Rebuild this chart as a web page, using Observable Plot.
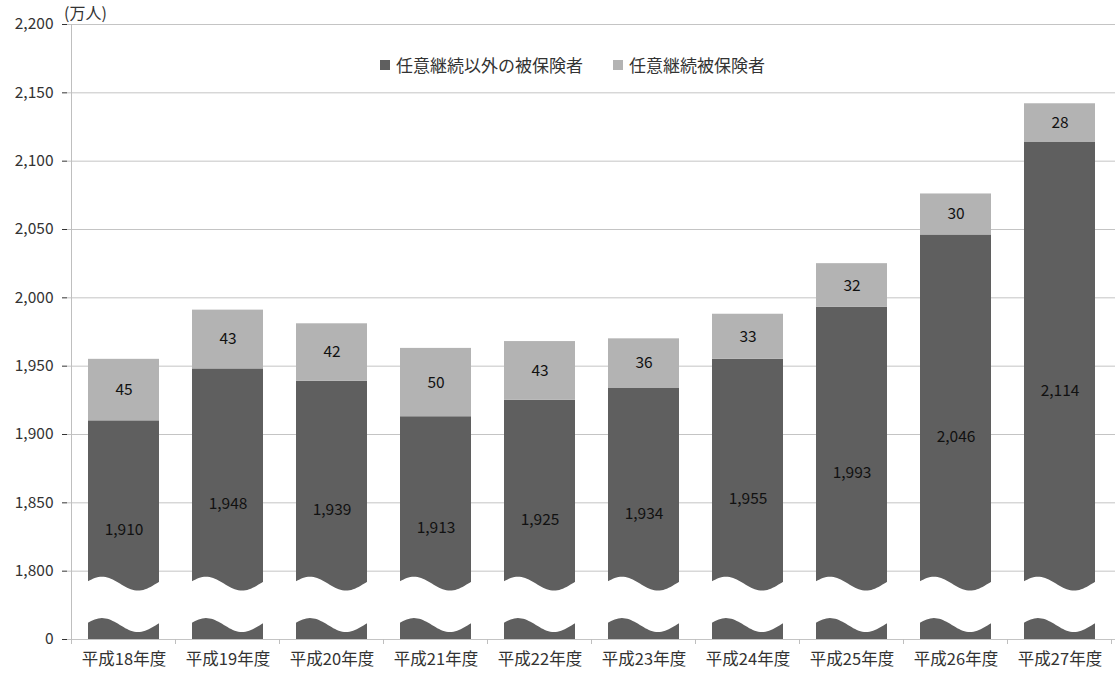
<!DOCTYPE html>
<html>
<head>
<meta charset="utf-8">
<script src="https://cdn.jsdelivr.net/npm/d3@7"></script>
<script src="https://cdn.jsdelivr.net/npm/@observablehq/plot@0.6"></script>
<style>
  body { margin: 0; background: #fff; font-family: "Noto Sans CJK JP", "Noto Sans", sans-serif; }
  #wrap { position: relative; width: 1115px; height: 676px; }
  #unit { position: absolute; left: 64px; top: 0px; font-size: 16px; color: #333; }
  #legend { position: absolute; left: 380px; top: 52px; font-size: 17px; color: #333; display: flex; align-items: center; white-space: nowrap; }
  #legend .sw { display: inline-block; width: 10px; height: 10px; margin-right: 6px; }
  #legend .item { display: flex; align-items: center; margin-right: 30px; }
  #wrap svg g[aria-label^="x-axis"] text { font-size: 16.5px; fill: #333; }
  #wrap svg g[aria-label^="y-axis"] text { font-size: 15.5px; fill: #333; }
</style>
</head>
<body>
<div id="wrap">
  <div id="unit">(万人)</div>
  <div id="legend"></div>
</div>
<script>
const years = ["平成18年度","平成19年度","平成20年度","平成21年度","平成22年度","平成23年度","平成24年度","平成25年度","平成26年度","平成27年度"];
const others = [1910, 1948, 1939, 1913, 1925, 1934, 1955, 1993, 2046, 2114];
const voluntary = [45, 43, 42, 50, 43, 36, 33, 32, 30, 28];
const seriesNames = ["任意継続以外の被保険者", "任意継続被保険者"];
const seriesColors = ["#5f5f5f", "#b3b3b3"];
const yTicks = [0, 1800, 1850, 1900, 1950, 2000, 2050, 2100, 2150, 2200];

// broken axis: 0 sits one step below 1,800
const BREAK = 1750;
const u = v => v === 0 ? 0 : v - BREAK;

const rows = [];
years.forEach((yr, i) => {
  rows.push({year: yr, s: 0, y1: 0, y2: u(others[i]), label: d3.format(",")(others[i])});
  rows.push({year: yr, s: 1, y1: u(others[i]), y2: u(others[i] + voluntary[i]), label: String(voluntary[i])});
});

function decor(index, scales, values, dims) {
  const x = scales.x, y = scales.y;
  const ns = "http://www.w3.org/2000/svg";
  const g = document.createElementNS(ns, "g");
  const bw = x.bandwidth ? x.bandwidth() : (dims.width - dims.marginLeft - dims.marginRight) / years.length * 0.69;
  const step = x.step ? x.step() : (dims.width - dims.marginLeft - dims.marginRight) / years.length;
  const pad = (step - bw) / 2;
  // wave breaks
  const amp = y(0) - y(5.1);
  const yc1 = y(40.5), yc2 = y(10.2);
  for (const yr of years) {
    const x0 = x(yr) - 0.5, w = bw + 1;
    const up = [], lo = [];
    for (let k = 0; k <= 40; k++) {
      const t = k / 40;
      const s = Math.sin(2 * Math.PI * t + 0.3);
      up.push([x0 + t * w, yc1 - amp * s]);
      lo.push([x0 + t * w, yc2 - amp * s]);
    }
    const pts = up.concat(lo.reverse());
    const p = document.createElementNS(ns, "path");
    p.setAttribute("d", "M" + pts.map(q => q[0].toFixed(2) + "," + q[1].toFixed(2)).join("L") + "Z");
    p.setAttribute("fill", "#fff");
    g.appendChild(p);
  }
  // left axis line
  const top = y(450), bot = y(0);
  const ln = (x1, y1, x2, y2) => {
    const l = document.createElementNS(ns, "line");
    l.setAttribute("x1", x1); l.setAttribute("y1", y1);
    l.setAttribute("x2", x2); l.setAttribute("y2", y2);
    l.setAttribute("stroke", "#bfbfbf"); l.setAttribute("stroke-width", 1);
    g.appendChild(l);
  };
  const left = x(years[0]) - pad;
  ln(left, top, left, bot + 5);
  // x boundary ticks
  for (let i = 1; i <= years.length; i++) {
    const bx = left + i * step;
    ln(bx, bot, bx, bot + 5);
  }
  return g;
}

const chart = Plot.plot({
  width: 1115,
  height: 676,
  marginTop: 24,
  marginLeft: 67,
  marginRight: 0,
  marginBottom: 37,
  style: {fontFamily: "'Noto Sans CJK JP', 'Noto Sans', sans-serif", fontSize: "15px", color: "#333", background: "#fff"},
  x: {domain: years, paddingInner: 0.32, paddingOuter: 0.16, align: 0.5, label: null, tickSize: 0, tickPadding: 14},
  y: {domain: [0, 450], ticks: yTicks.map(u), tickFormat: v => v === 0 ? "0" : d3.format(",")(v + BREAK), label: null, tickSize: 5, tickPadding: 9},
  marks: [
    Plot.ruleY(yTicks.map(u), {stroke: "#c4c4c4", strokeWidth: 1}),
    Plot.barY(rows, {x: "year", y1: "y1", y2: "y2", fill: d => seriesColors[d.s]}),
    decor,
    Plot.text(rows, {x: "year", y: d => (d.y1 + d.y2) / 2, text: "label", fill: "#111", fontSize: 15.5})
  ]
});
chart.style.position = "absolute";
chart.style.left = "0px";
chart.style.top = "0px";
const wrap = document.getElementById("wrap");
wrap.insertBefore(chart, wrap.firstChild);

const legend = document.getElementById("legend");
seriesNames.forEach((n, i) => {
  const it = document.createElement("span");
  it.className = "item";
  it.innerHTML = `<span class="sw" style="background:${seriesColors[i]}"></span>${n}`;
  legend.appendChild(it);
});
</script>
</body>
</html>
